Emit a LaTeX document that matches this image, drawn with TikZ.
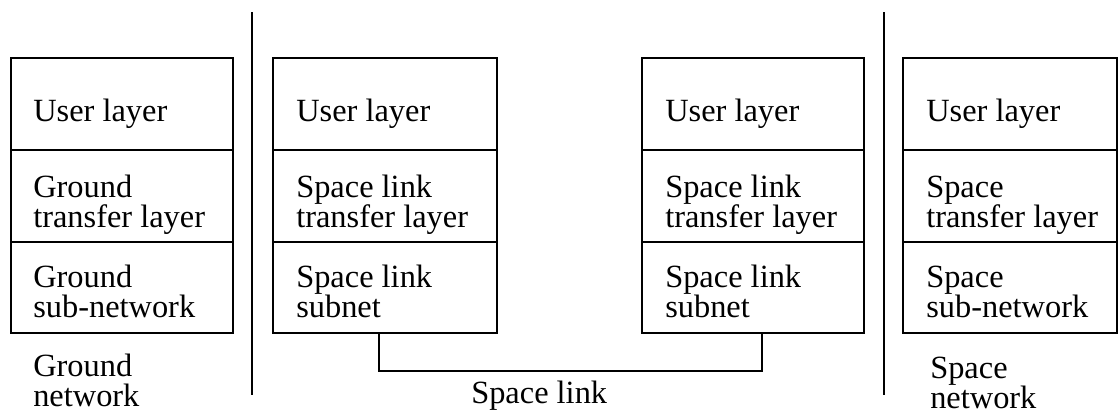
\documentclass[tikz,border=0pt]{standalone}
\usepackage{fontspec}
\setmainfont{Liberation Serif}
\begin{document}
\begin{tikzpicture}[x=0.75pt,y=-0.75pt,
  boxline/.style={draw=black,line width=0.9pt},
  rule/.style={draw=black,line width=0.8pt},
  lbl/.style={inner sep=0pt,anchor=base west,font=\fontsize{24.3}{22.5}\selectfont}]
\useasboundingbox (0,0) rectangle (1118,419);
% dividers
\coordinate (d1t) at (252,12); \coordinate (d1b) at (252,395);
\coordinate (d2t) at (884,12); \coordinate (d2b) at (884,395);
\draw[rule] (d1t) -- (d1b);
\draw[rule] (d2t) -- (d2b);
% boxes
\foreach \l/\r in {11/233, 273/497, 642/864, 903/1117}{
  \draw[boxline] (\l,58) rectangle (\r,333);
  \draw[boxline] (\l,150) -- (\r,150);
  \draw[boxline] (\l,242) -- (\r,242);
}
% box 1
\node[lbl] (a1) at (33,121) {User layer};
\node[lbl] (a2) at (33,197) {Ground};
\node[lbl] (a3) at (33,227) {transfer layer};
\node[lbl] (a4) at (33,287) {Ground};
\node[lbl] (a5) at (33,317) {sub-network};
\node[lbl] (a6) at (33,376) {Ground};
\node[lbl] (a7) at (33,406) {network};
% box 2
\node[lbl] (b1) at (296,121) {User layer};
\node[lbl] (b2) at (296,197) {Space link};
\node[lbl] (b3) at (296,227) {transfer layer};
\node[lbl] (b4) at (296,287) {Space link};
\node[lbl] (b5) at (296,317) {subnet};
% box 3
\node[lbl] (c1) at (665,121) {User layer};
\node[lbl] (c2) at (665,197) {Space link};
\node[lbl] (c3) at (665,227) {transfer layer};
\node[lbl] (c4) at (665,287) {Space link};
\node[lbl] (c5) at (665,317) {subnet};
% box 4
\node[lbl] (e1) at (926,121) {User layer};
\node[lbl] (e2) at (926,197) {Space};
\node[lbl] (e3) at (926,227) {transfer layer};
\node[lbl] (e4) at (926,287) {Space};
\node[lbl] (e5) at (926,317) {sub-network};
\node[lbl] (e6) at (930,378) {Space};
\node[lbl] (e7) at (930,408) {network};
% space link connector
\coordinate (s1) at (379,333);
\coordinate (s2) at (762,333);
\draw[rule] (s1) -- (379,371) -- (762,371) -- (s2);
\node[lbl] (sl) at (471,403) {Space link};
\end{tikzpicture}
\end{document}
